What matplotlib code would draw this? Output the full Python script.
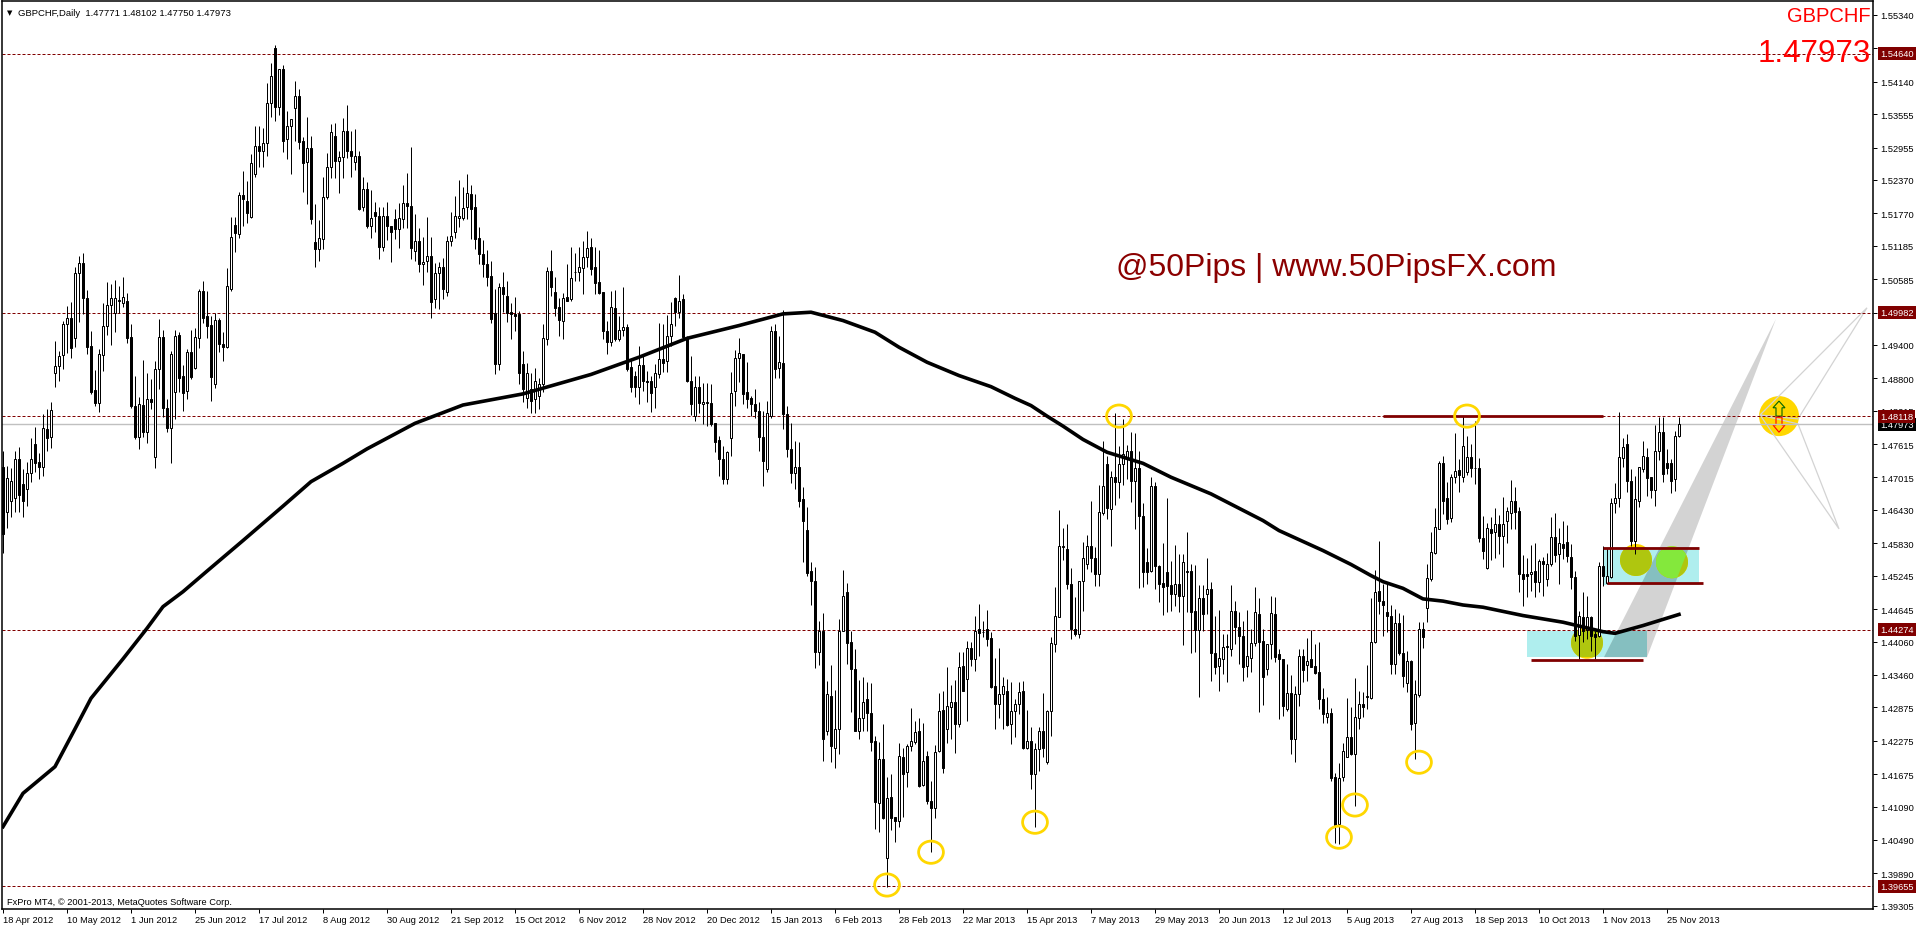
import numpy as np
import matplotlib
matplotlib.use('Agg')
import matplotlib.pyplot as plt
from matplotlib.patches import Ellipse, Polygon, Rectangle

plt.rcParams['font.family'] = ['Liberation Sans', 'DejaVu Sans']

# GBPCHF daily candles, one per bar. Prices in pips (1.4797 -> 14797)
highs = [14749,14723,14718,14749,14756,14717,14729,14772,14792,14746,
 14815,14825,14837,14947,14929,14983,15010,15017,15080,15100,
 15106,15039,14965,14895,14932,15016,15054,15049,15057,15046,
 15063,15033,14977,14884,14846,14913,14889,14879,14911,14987,
 14967,14843,14929,14967,14964,14904,14932,14967,14971,15040,
 15055,15037,14992,14998,14989,14963,15079,15170,15170,15215,
 15254,15236,15284,15335,15335,15330,15412,15448,15480,15437,
 15444,15362,15347,15415,15400,15315,15350,15316,15194,15165,
 15242,15286,15338,15340,15290,15349,15372,15325,15329,15289,
 15243,15233,15219,15197,15188,15188,15197,15154,15185,15196,
 15228,15249,15296,15175,15150,15134,15170,15134,15088,15089,
 15097,15136,15179,15208,15237,15224,15247,15228,15212,15152,
 15129,15111,15091,15040,15052,15071,15056,15015,15026,15002,
 14930,14908,14890,14898,14880,14977,15080,15111,15063,15025,
 15033,15086,15116,15106,15116,15128,15145,15133,15116,15111,
 15035,14984,15037,15039,14993,15044,14977,14915,14894,14939,
 14920,14893,14885,14906,14980,14977,14994,15017,15026,15066,
 15032,14957,14920,14885,14884,14872,14872,14870,14800,14777,
 14758,14750,14892,14931,14953,14924,14909,14849,14861,14838,
 14822,14839,14975,14978,14956,15003,14831,14799,14768,14766,
 14684,14648,14549,14540,14443,14457,14335,14364,14319,14447,
 14535,14511,14426,14392,14337,14342,14333,14332,14237,14225,
 14258,14162,14168,14090,14224,14215,14221,14287,14263,14269,
 14260,14210,14155,14220,14314,14317,14360,14328,14337,14387,
 14387,14407,14405,14453,14473,14443,14463,14423,14376,14394,
 14342,14339,14334,14303,14333,14336,14283,14252,14223,14252,
 14314,14283,14414,14504,14643,14610,14618,14538,14487,14516,
 14585,14598,14659,14576,14688,14768,14740,14713,14818,14759,
 14807,14760,14783,14782,14749,14655,14575,14702,14694,14544,
 14583,14665,14552,14580,14564,14564,14603,14546,14544,14508,
 14508,14557,14513,14453,14463,14420,14420,14508,14480,14459,
 14444,14463,14429,14504,14485,14429,14402,14489,14487,14393,
 14375,14366,14346,14326,14393,14393,14412,14427,14402,14405,
 14322,14306,14287,14170,14188,14223,14305,14288,14340,14318,
 14315,14364,14484,14535,14588,14510,14511,14472,14465,14458,
 14454,14390,14373,14337,14441,14442,14546,14603,14646,14732,
 14740,14693,14708,14782,14735,14813,14777,14761,14803,14736,
 14633,14620,14630,14646,14634,14666,14649,14697,14684,14648,
 14562,14556,14580,14583,14555,14558,14566,14631,14637,14610,
 14623,14616,14581,14534,14462,14495,14488,14453,14426,14550,
 14579,14574,14664,14692,14819,14772,14779,14717,14705,14720,
 14767,14755,14702,14796,14810,14810,14753,14735,14786,14810]
lows = [14565,14610,14630,14640,14640,14630,14650,14693,14711,14699,
 14705,14750,14754,14865,14876,14896,14926,14917,14937,14982,
 14996,14924,14852,14831,14820,14893,14958,14940,14964,14997,
 15009,14944,14827,14770,14752,14775,14764,14825,14719,14861,
 14811,14784,14727,14807,14855,14822,14843,14879,14896,14935,
 14980,14953,14840,14863,14928,14912,14934,15038,15108,15132,
 15155,15160,15169,15243,15260,15260,15281,15350,15344,15354,
 15288,15275,15248,15308,15293,15216,15194,15158,15081,15092,
 15112,15202,15241,15240,15214,15241,15277,15243,15255,15183,
 15181,15151,15133,15144,15094,15110,15129,15089,15131,15114,
 15151,15151,15095,15092,15072,15048,15071,14989,15007,15005,
 15022,15029,15119,15133,15153,15165,15167,15131,15112,15086,
 15063,15047,14980,14888,14895,14999,14982,14951,14966,14870,
 14838,14826,14818,14818,14825,14855,14940,15028,14993,14957,
 14951,15019,15020,15056,15056,15032,15080,15066,15031,15032,
 14951,14923,14939,14948,14948,14957,14894,14856,14846,14833,
 14858,14838,14820,14827,14880,14891,14892,14939,14975,14988,
 14951,14873,14814,14803,14817,14797,14795,14795,14748,14705,
 14690,14690,14741,14831,14873,14834,14826,14813,14808,14750,
 14687,14712,14809,14880,14880,14788,14739,14692,14681,14648,
 14549,14524,14472,14359,14364,14192,14238,14190,14179,14203,
 14425,14366,14279,14246,14230,14245,14246,14210,14069,14063,
 14087,13964,14067,14045,14072,14091,14144,14210,14221,14144,
 14146,14114,14027,14088,14207,14170,14224,14231,14205,14252,
 14317,14264,14363,14353,14381,14415,14399,14323,14248,14269,
 14248,14254,14222,14234,14276,14213,14213,14140,14072,14174,
 14198,14185,14236,14388,14450,14553,14500,14410,14417,14412,
 14462,14537,14532,14507,14507,14634,14626,14579,14652,14664,
 14688,14699,14657,14608,14502,14504,14510,14531,14500,14478,
 14454,14459,14462,14470,14459,14400,14459,14385,14388,14307,
 14425,14455,14336,14348,14318,14348,14333,14381,14402,14366,
 14336,14343,14351,14399,14279,14292,14346,14375,14369,14266,
 14273,14282,14204,14190,14290,14334,14336,14360,14348,14285,
 14260,14260,14156,14043,14042,14155,14198,14202,14111,14249,
 14270,14285,14303,14404,14456,14417,14423,14348,14348,14382,
 14325,14315,14247,14195,14306,14395,14441,14516,14563,14608,
 14636,14618,14622,14692,14676,14694,14706,14702,14690,14586,
 14555,14536,14553,14556,14564,14541,14583,14608,14608,14496,
 14471,14486,14498,14486,14496,14489,14506,14543,14549,14510,
 14555,14550,14500,14407,14375,14405,14411,14390,14375,14414,
 14507,14510,14521,14638,14649,14720,14676,14579,14564,14649,
 14711,14669,14664,14650,14733,14694,14708,14674,14678,14775]
opens = [14720,14640,14660,14665,14735,14690,14680,14709,14762,14729,
 14721,14789,14775,14889,14902,14922,14977,14988,14953,15069,
 15087,15024,14938,14859,14836,14922,14974,15012,14998,15020,
 15015,15019,14954,14830,14775,14832,14784,14842,14739,14896,
 14954,14826,14791,14855,14958,14884,14857,14927,14899,14953,
 15037,14992,14976,14869,14985,14941,14937,15041,15156,15139,
 15210,15200,15171,15247,15298,15289,15303,15375,15475,15368,
 15437,15310,15334,15366,15388,15307,15269,15294,15125,15112,
 15130,15207,15261,15316,15272,15278,15325,15290,15270,15281,
 15188,15220,15155,15179,15173,15117,15172,15154,15166,15148,
 15166,15195,15191,15110,15127,15085,15091,15101,15022,15069,
 15080,15035,15128,15144,15169,15169,15188,15212,15188,15132,
 15103,15086,15064,14997,14905,15044,15029,14999,14996,14996,
 14905,14845,14860,14843,14848,14870,14950,15073,15035,15008,
 14984,15026,15022,15072,15072,15079,15098,15116,15080,15053,
 15035,14966,14945,15006,14950,14967,14972,14900,14884,14865,
 14904,14876,14875,14864,14888,14915,14911,14957,15024,15000,
 15022,14954,14876,14813,14864,14833,14835,14835,14800,14769,
 14735,14698,14772,14858,14917,14924,14856,14845,14833,14822,
 14775,14716,14813,14965,14898,14907,14815,14753,14710,14721,
 14663,14607,14533,14516,14387,14425,14246,14309,14215,14248,
 14426,14495,14405,14357,14246,14268,14302,14277,14228,14115,
 14194,14016,14126,14090,14084,14198,14171,14218,14226,14245,
 14148,14200,14120,14107,14209,14283,14249,14289,14297,14258,
 14362,14339,14395,14374,14429,14424,14428,14412,14326,14294,
 14311,14317,14257,14282,14293,14317,14215,14227,14167,14212,
 14246,14190,14281,14401,14450,14577,14573,14509,14428,14419,
 14516,14546,14578,14556,14528,14638,14726,14645,14702,14693,
 14725,14735,14749,14696,14719,14632,14549,14534,14687,14543,
 14511,14531,14508,14491,14510,14489,14532,14533,14461,14427,
 14485,14491,14500,14385,14363,14374,14398,14392,14462,14433,
 14417,14362,14377,14403,14456,14408,14356,14401,14455,14383,
 14374,14285,14314,14231,14311,14380,14364,14375,14362,14351,
 14303,14271,14278,14162,14078,14162,14199,14235,14204,14269,
 14293,14307,14304,14405,14497,14480,14459,14453,14366,14439,
 14385,14332,14372,14260,14310,14428,14466,14519,14566,14609,
 14728,14665,14629,14703,14715,14703,14712,14738,14718,14718,
 14593,14539,14608,14603,14617,14597,14624,14638,14660,14641,
 14527,14527,14528,14533,14513,14551,14519,14545,14594,14563,
 14582,14585,14558,14522,14418,14450,14427,14451,14420,14416,
 14542,14511,14522,14655,14664,14736,14761,14696,14588,14660,
 14716,14738,14702,14679,14750,14783,14727,14727,14698,14777]
closes = [14600,14700,14695,14735,14670,14660,14709,14735,14728,14721,
 14790,14773,14823,14902,14920,14977,14988,14934,15069,15087,
 15024,14937,14856,14836,14923,14974,15012,15024,15024,15021,
 15026,14953,14831,14775,14833,14784,14842,14838,14896,14954,
 14827,14791,14923,14956,14881,14854,14927,14883,14954,15037,
 14989,14975,14883,14985,14941,14937,15046,15134,15141,15210,
 15203,15178,15268,15298,15289,15303,15375,15424,15368,15437,
 15308,15334,15346,15388,15306,15268,15294,15166,15113,15132,
 15206,15260,15323,15272,15278,15325,15290,15281,15281,15185,
 15220,15155,15168,15173,15117,15172,15154,15143,15148,15168,
 15195,15191,15115,15128,15085,15089,15101,15018,15069,15080,
 15040,15128,15136,15173,15172,15186,15213,15184,15131,15103,
 15085,15063,14987,14905,15044,15031,14998,14996,14993,14890,
 14860,14890,14840,14875,14870,14952,15073,15045,15007,14985,
 15024,15020,15060,15072,15080,15098,15114,15076,15052,15034,
 14966,14946,15009,14950,14967,14972,14897,14864,14865,14904,
 14876,14874,14854,14890,14915,14908,14956,14978,15000,15020,
 14954,14876,14833,14864,14835,14837,14837,14798,14765,14734,
 14698,14747,14853,14916,14925,14852,14843,14833,14822,14775,
 14732,14817,14966,14897,14909,14815,14753,14710,14721,14660,
 14624,14530,14516,14387,14425,14230,14311,14219,14248,14426,
 14488,14404,14357,14246,14268,14297,14277,14226,14117,14194,
 14089,14124,14089,14084,14201,14168,14218,14228,14243,14146,
 14191,14120,14107,14207,14282,14179,14290,14297,14258,14360,
 14318,14394,14374,14426,14422,14423,14411,14325,14293,14311,
 14326,14256,14282,14293,14315,14215,14227,14167,14212,14246,
 14215,14281,14403,14453,14578,14578,14509,14428,14419,14516,
 14556,14578,14556,14528,14640,14687,14647,14702,14693,14725,
 14744,14749,14696,14719,14632,14532,14532,14687,14543,14510,
 14505,14507,14491,14509,14489,14550,14533,14460,14427,14484,
 14455,14500,14385,14361,14376,14396,14396,14461,14433,14417,
 14361,14380,14403,14459,14406,14342,14401,14457,14378,14374,
 14290,14314,14231,14312,14380,14355,14372,14361,14349,14302,
 14276,14277,14161,14076,14161,14210,14235,14204,14270,14293,
 14288,14308,14406,14495,14480,14472,14453,14366,14439,14385,
 14345,14372,14258,14311,14428,14414,14520,14567,14612,14727,
 14660,14627,14703,14713,14706,14758,14738,14718,14718,14593,
 14570,14610,14602,14617,14597,14617,14641,14660,14640,14527,
 14518,14525,14532,14514,14551,14546,14546,14594,14562,14583,
 14575,14561,14523,14417,14453,14426,14451,14417,14415,14542,
 14525,14525,14655,14664,14738,14756,14696,14588,14663,14720,
 14741,14701,14679,14750,14783,14708,14719,14696,14777,14797]

# moving average, read at a few bars
ma_bars = [0,5,13,18,22,30,36,40,45,51,60,70,77,85,91,103,115,130,147,159,171,184,195,202,210,218,224,231,239,
           247,253,257,261,265,270,276,285,292,302,315,319,330,337,342,345,350,355,360,365,370,380,385,390,400,403,410,419]
ma_pips = [14073,14133,14181,14249,14304,14375,14430,14469,14496,14533,14588,14650,14694,14727,14753,14799,14832,
           14852,14887,14918,14952,14975,14996,14999,14984,14963,14936,14909,14885,14865,14844,14831,14812,14794,
           14770,14747,14727,14702,14672,14624,14606,14570,14545,14525,14514,14502,14483,14479,14472,14468,14453,
           14447,14441,14424,14421,14435,14455]

date_bars = list(range(0, 417, 16))
date_labels = ['18 Apr 2012', '10 May 2012', '1 Jun 2012', '25 Jun 2012', '17 Jul 2012', '8 Aug 2012', '30 Aug 2012',
               '21 Sep 2012', '15 Oct 2012', '6 Nov 2012', '28 Nov 2012', '20 Dec 2012', '15 Jan 2013', '6 Feb 2013',
               '28 Feb 2013', '22 Mar 2013', '15 Apr 2013', '7 May 2013', '29 May 2013', '20 Jun 2013', '12 Jul 2013',
               '5 Aug 2013', '27 Aug 2013', '18 Sep 2013', '10 Oct 2013', '1 Nov 2013', '25 Nov 2013']
price_ticks = [1.55340, 1.54740, 1.54140, 1.53555, 1.52955, 1.52370, 1.51770, 1.51185, 1.50585, 1.49985, 1.49400,
               1.48800, 1.48215, 1.47615, 1.47015, 1.46430, 1.45830, 1.45245, 1.44645, 1.44060, 1.43460, 1.42875,
               1.42275, 1.41675, 1.41090, 1.40490, 1.39890, 1.39305]
level_prices = [1.54640, 1.49982, 1.48118, 1.44274, 1.39655]
bid_price = 1.47973

# yellow rings at the swing points (bar, pips)
ring_bars = [221, 232, 258, 334, 338, 354, 279, 366]
ring_pips = [13968, 14027, 14081, 14054, 14112, 14189, 14812, 14812]

# support boxes and lines drawn on the chart (bar start, bar end, pips)
box_one = (381, 411, 14379, 14426)
box_two = (400, 424, 14508, 14576)
sr_lines = [(345, 400, 14812), (400, 424, 14575), (401, 425, 14512), (382, 410, 14373)]
band_bars = [400.25, 411, 443.25]
band_pips = [14378, 14378, 14987]
spot_bars = [396, 408.25, 417.25]
spot_pips = [14404, 14553, 14549]


def px(x, y):
    return x / 1916, 1 - y / 928


fig = plt.figure(figsize=(19.16, 9.28), dpi=100)
ax = fig.add_axes([2 / 1916, 18 / 928, 1871 / 1916, 908 / 928])
ax.set_xlim(-0.25, 467.5)
ax.set_ylim(1.39248, 1.55592)

# boxes, band and highlight circles
box_a = Rectangle((box_one[0], box_one[2] / 1e4), box_one[1] - box_one[0], (box_one[3] - box_one[2]) / 1e4,
                  fc='#AFEEEE', ec='none', zorder=1)
box_b = Rectangle((box_two[0], box_two[2] / 1e4), box_two[1] - box_two[0], (box_two[3] - box_two[2]) / 1e4,
                  fc='#AFEEEE', ec='none', zorder=1)
ax.add_patch(box_a)
ax.add_patch(box_b)
band_xy = np.column_stack([band_bars, np.array(band_pips) / 1e4])
band = Polygon(band_xy, fc='#D3D3D3', ec='none', zorder=2)
ax.add_patch(band)
for box in (box_a, box_b):
    over = Polygon(band_xy, fc='#85BFC0', ec='none', zorder=3)
    ax.add_patch(over)
    over.set_clip_path(box)

for b, p in zip(spot_bars, spot_pips):
    ax.add_patch(Ellipse((b, p / 1e4), 8, 0.00576, fc='#FFD700', ec='none', zorder=4))
for b, p, box in zip(spot_bars, spot_pips, (box_a, box_b, box_b)):
    e = Ellipse((b, p / 1e4), 8, 0.00576, fc='#AFC60F', ec='none', zorder=5)
    ax.add_patch(e)
    e.set_clip_path(box)
green = Ellipse((spot_bars[2], spot_pips[2] / 1e4), 8, 0.00576, fc='#84E83C', ec='none', zorder=6)
ax.add_patch(green)
green.set_clip_path(band)

# levels and bid line
for p in level_prices:
    ax.axhline(p, color='#800000', lw=0.72, ls=(0, (3, 2)), zorder=7)
ax.axhline(bid_price, color='#C0C0C0', lw=1.0, zorder=7)

# candles
bars = np.arange(len(opens))
o = np.array(opens) / 1e4
h = np.array(highs) / 1e4
l = np.array(lows) / 1e4
c = np.array(closes) / 1e4
ax.vlines(bars, l, h, color='black', lw=0.72, zorder=8)
up = c >= o
ax.bar(bars[up], (c - o)[up], bottom=o[up], width=0.5, fc='white', ec='black', lw=0.72, zorder=9)
ax.bar(bars[~up], (o - c)[~up], bottom=c[~up], width=0.5, fc='black', ec='black', lw=0.72, zorder=9)

ax.plot(ma_bars, np.array(ma_pips) / 1e4, color='black', lw=2.6, zorder=10)

for x0, x1, p in sr_lines:
    ax.plot([x0, x1], [p / 1e4, p / 1e4], color='#800000', lw=2.0, solid_capstyle='butt', zorder=11)

for b, p in zip(ring_bars, ring_pips):
    ax.add_patch(Ellipse((b, p / 1e4), 6.2, 0.0040, fc='none', ec='#FFD700', lw=2.0, zorder=12))

# up/down marker on the right
ax.add_patch(Ellipse((444, 1.4812), 10, 0.0072, fc='#FFD700', ec='none', zorder=4))
ax.add_patch(Polygon([(439.25, 1.4814), (466, 1.5007), (448.75, 1.4807)], fc='none', ec='#D3D3D3', lw=0.9, zorder=5))
ax.add_patch(Polygon([(439.25, 1.4814), (459, 1.4609), (448.75, 1.4798)], fc='none', ec='#D3D3D3', lw=0.9, zorder=5))
ax.add_patch(Polygon([(443.25, 1.4812), (443.25, 1.4827), (442.5, 1.4827), (444, 1.4839), (445.5, 1.4827),
                      (444.75, 1.4827), (444.75, 1.4812)], fc='none', ec='#006400', lw=0.8, zorder=6))
ax.add_patch(Polygon([(443.25, 1.4810), (443.25, 1.4796), (442.5, 1.4796), (444, 1.4783), (445.5, 1.4796),
                      (444.75, 1.4796), (444.75, 1.4810)], fc='none', ec='#FF0000', lw=0.8, zorder=6))

# axes furniture
for s in ax.spines.values():
    s.set_linewidth(1.1)
    s.set_zorder(20)
ax.yaxis.tick_right()
ax.set_yticks(price_ticks)
ax.set_yticklabels(['%.5f' % p for p in price_ticks], fontsize=6.7)
ax.set_xticks(date_bars)
ax.set_xticklabels(date_labels, fontsize=6.7, ha='left')
ax.tick_params(axis='y', direction='out', length=2.9, width=0.72, pad=2.5)
ax.tick_params(axis='x', direction='out', length=2.9, width=0.72, pad=1.5)

# price tags over the right axis, bid tag first so the level tag sits on top of it
tag_x = 1880
fig.text(tag_x / 1916, 1 - (15562.8 - bid_price * 1e4) / 1.8 / 928, '%.5f' % bid_price, color='white', fontsize=6.7,
         va='center', zorder=29, bbox=dict(boxstyle='square,pad=0.22', fc='black', ec='none'))
for p in level_prices:
    fig.text(tag_x / 1916, 1 - (15562.8 - p * 1e4) / 1.8 / 928, '%.5f' % p, color='white', fontsize=6.7, va='center',
             zorder=30, bbox=dict(boxstyle='square,pad=0.22', fc='#800000', ec='none'))

# text
x, y = px(7, 13)
fig.text(x, y, '\u25bc', fontsize=5, family=['DejaVu Sans'], va='center', color='black', zorder=30)
x, y = px(18, 13)
fig.text(x, y, 'GBPCHF,Daily  1.47771 1.48102 1.47750 1.47973', fontsize=6.8, va='center', zorder=30)
x, y = px(7, 903)
fig.text(x, y, 'FxPro MT4, \u00a9 2001-2013, MetaQuotes Software Corp.', fontsize=6.7, va='center', zorder=30)
x, y = px(1871, 16)
fig.text(x, y, 'GBPCHF', fontsize=14.5, color='#FF0000', ha='right', va='center', zorder=30)
x, y = px(1871, 54)
fig.text(x, y, '1.47973', fontsize=22.5, color='#FF0000', ha='right', va='center', zorder=30)
x, y = px(1116, 268)
fig.text(x, y, '@50Pips | www.50PipsFX.com', fontsize=23, color='#8B0000', ha='left', va='center', zorder=30)

fig.savefig('out.png', dpi=100, facecolor='white')
